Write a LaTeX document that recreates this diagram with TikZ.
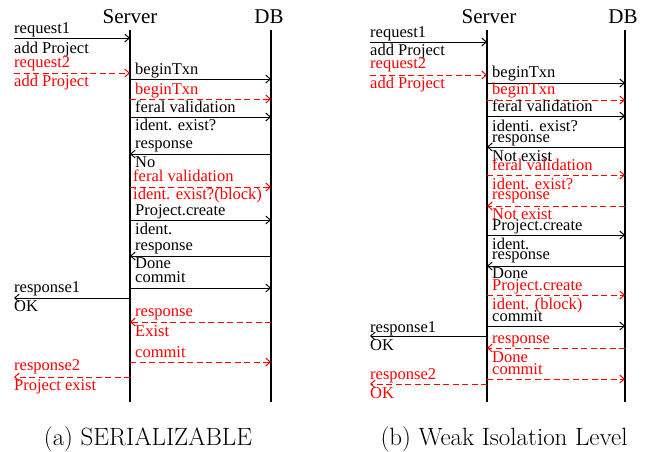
\documentclass[tikz,border=0pt]{standalone}
\usepackage{fontspec}
\newfontfamily\tnr{Liberation Serif}
\newfontfamily\capfont{Latin Modern Roman}
\usetikzlibrary{arrows.meta}
\definecolor{myred}{RGB}{255,0,0}
\tikzset{
  lab/.style={anchor=base west, inner sep=0pt, font=\tnr\fontsize{16.5}{18}\selectfont},
  rl/.style={lab, text=myred},
  ttl/.style={anchor=base, inner sep=0pt, font=\tnr\fontsize{21}{24}\selectfont},
  capt/.style={anchor=base, inner sep=0pt, font=\capfont\fontsize{25}{28}\selectfont},
  life/.style={line width=1.4pt},
  msgk/.style={line width=1pt, -{Straight Barb[length=4.5pt,width=8pt]}},
  msgr/.style={msgk, myred, dash pattern=on 6pt off 3.5pt}
}
\newcommand\arrw[5]{\coordinate (#1a) at (#3,#5); \coordinate (#1b) at (#4,#5); \draw[#2] (#1a) -- (#1b);}
\newcommand\lbl[5]{\node[#2] (#1) at (#3,#4) {#5};}
\begin{document}
\begin{tikzpicture}[x=1pt,y=-1pt]
\useasboundingbox (0,0) rectangle (652,451);
% ---------- left diagram ----------
\lbl{aS}{ttl}{130}{23}{Server}
\lbl{aD}{ttl}{269}{23}{DB}
\coordinate (aSt) at (130,30); \coordinate (aSb) at (130,402);
\coordinate (aDt) at (271,30); \coordinate (aDb) at (271,402);
\draw[life] (aSt) -- (aSb);
\draw[life] (aDt) -- (aDb);
\arrw{a1}{msgk}{14}{130}{38}
\arrw{a2}{msgr}{14}{130}{73}
\arrw{a3}{msgk}{130}{271}{79}
\arrw{a4}{msgr}{130}{271}{99}
\arrw{a5}{msgk}{130}{271}{117}
\arrw{a6}{msgk}{271}{130}{154}
\arrw{a7}{msgr}{130}{271}{187}
\arrw{a8}{msgk}{130}{271}{220}
\arrw{a9}{msgk}{271}{130}{256}
\arrw{a10}{msgk}{130}{271}{288}
\arrw{a11}{msgk}{130}{14}{298}
\arrw{a12}{msgr}{271}{130}{322}
\arrw{a13}{msgr}{130}{271}{362}
\arrw{a14}{msgr}{130}{14}{377}
\lbl{la1}{lab}{14}{33}{request1}
\lbl{la2}{lab}{14}{53}{add Project}
\lbl{la3}{rl}{14}{67}{request2}
\lbl{la4}{rl}{14}{86}{add Project}
\lbl{la5}{lab}{135}{74}{beginTxn}
\lbl{la6}{rl}{135}{94}{beginTxn}
\lbl{la7}{lab}{135}{112}{feral validation}
\lbl{la8}{lab}{135}{130}{ident. exist?}
\lbl{la9}{lab}{135}{148}{response}
\lbl{la10}{lab}{135}{167}{No}
\lbl{la11}{rl}{133}{181}{feral validation}
\lbl{la12}{rl}{133}{199}{ident. exist?(block)}
\lbl{la13}{lab}{135}{215}{Project.create}
\lbl{la14}{lab}{135}{234}{ident.}
\lbl{la15}{lab}{135}{250}{response}
\lbl{la16}{lab}{135}{268}{Done}
\lbl{la17}{lab}{135}{282}{commit}
\lbl{la18}{lab}{14}{292}{response1}
\lbl{la19}{lab}{14}{311}{OK}
\lbl{la20}{rl}{135}{316}{response}
\lbl{la21}{rl}{135}{336}{Exist}
\lbl{la22}{rl}{135}{357}{commit}
\lbl{la23}{rl}{14}{370}{response2}
\lbl{la24}{rl}{14}{390}{Project exist}
\lbl{capa}{capt}{148}{445}{(a) SERIALIZABLE}
% ---------- right diagram ----------
\lbl{bS}{ttl}{489}{23}{Server}
\lbl{bD}{ttl}{623}{23}{DB}
\coordinate (bSt) at (487,30); \coordinate (bSb) at (487,402);
\coordinate (bDt) at (625,30); \coordinate (bDb) at (625,402);
\draw[life] (bSt) -- (bSb);
\draw[life] (bDt) -- (bDb);
\arrw{b1}{msgk}{370}{487}{42}
\arrw{b2}{msgr}{370}{487}{75}
\arrw{b3}{msgk}{487}{625}{83}
\arrw{b4}{msgr}{487}{625}{100}
\arrw{b5}{msgk}{487}{625}{116}
\arrw{b6}{msgk}{625}{487}{147}
\arrw{b7}{msgr}{487}{625}{175}
\arrw{b8}{msgr}{625}{487}{206}
\arrw{b9}{msgk}{487}{625}{235}
\arrw{b10}{msgk}{625}{487}{266}
\arrw{b11}{msgr}{487}{625}{295}
\arrw{b12}{msgk}{487}{625}{326}
\arrw{b13}{msgk}{487}{370}{336}
\arrw{b14}{msgr}{625}{487}{348}
\arrw{b15}{msgr}{487}{625}{379}
\arrw{b16}{msgr}{487}{370}{384}
\lbl{lb1}{lab}{370}{37}{request1}
\lbl{lb2}{lab}{370}{55}{add Project}
\lbl{lb3}{rl}{370}{68}{request2}
\lbl{lb4}{rl}{370}{88}{add Project}
\lbl{lb5}{lab}{492}{77}{beginTxn}
\lbl{lb6}{rl}{492}{94}{beginTxn}
\lbl{lb7}{lab}{492}{111}{feral validation}
\lbl{lb8}{lab}{492}{131}{identi. exist?}
\lbl{lb9}{lab}{492}{142}{response}
\lbl{lb10}{lab}{492}{161}{Not exist}
\lbl{lb11}{rl}{492}{170}{feral validation}
\lbl{lb12}{rl}{492}{189}{ident. exist?}
\lbl{lb13}{rl}{492}{199}{response}
\lbl{lb14}{rl}{492}{219}{Not exist}
\lbl{lb15}{lab}{492}{230}{Project.create}
\lbl{lb16}{lab}{492}{249}{ident.}
\lbl{lb17}{lab}{492}{259}{response}
\lbl{lb18}{lab}{492}{278}{Done}
\lbl{lb19}{rl}{492}{290}{Project.create}
\lbl{lb20}{rl}{492}{309}{ident. (block)}
\lbl{lb21}{lab}{492}{321}{commit}
\lbl{lb22}{lab}{370}{332}{response1}
\lbl{lb23}{lab}{370}{350}{OK}
\lbl{lb24}{rl}{492}{343}{response}
\lbl{lb25}{rl}{492}{362}{Done}
\lbl{lb26}{rl}{492}{374}{commit}
\lbl{lb27}{rl}{370}{379}{response2}
\lbl{lb28}{rl}{370}{398}{OK}
\lbl{capb}{capt}{504}{445}{(b) Weak Isolation Level}
\end{tikzpicture}
\end{document}
